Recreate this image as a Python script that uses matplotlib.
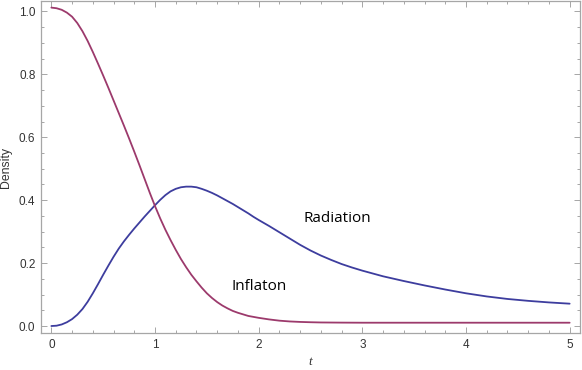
import matplotlib
matplotlib.use("Agg")
import matplotlib.pyplot as plt
from matplotlib.ticker import MultipleLocator

# Data
t_infl = [0.00, 0.05, 0.10, 0.15, 0.20, 0.25, 0.30, 0.35, 0.40, 0.45, 0.50, 0.55,
          0.60, 0.65, 0.70, 0.75, 0.80, 0.85, 0.90, 0.95, 1.00, 1.05, 1.10, 1.15,
          1.20, 1.25, 1.30, 1.35, 1.40, 1.45, 1.50, 1.55, 1.60, 1.65, 1.70, 1.75,
          1.80, 1.85, 1.90, 1.95, 2.00, 2.10, 2.20, 2.30, 2.40, 2.50, 2.60, 2.80,
          3.00, 4.00, 5.00]
inflaton = [1.012, 1.010, 1.005, 0.996, 0.983, 0.963, 0.937, 0.906, 0.871, 0.834,
            0.796, 0.757, 0.717, 0.677, 0.637, 0.596, 0.554, 0.511, 0.467, 0.423,
            0.381, 0.342, 0.306, 0.273, 0.242, 0.213, 0.187, 0.163, 0.142, 0.122,
            0.104, 0.089, 0.076, 0.065, 0.056, 0.048, 0.042, 0.037, 0.032, 0.029,
            0.026, 0.021, 0.017, 0.0145, 0.013, 0.012, 0.0113, 0.0108, 0.0105,
            0.0105, 0.0105]

t_rad = [0.00, 0.05, 0.10, 0.15, 0.20, 0.25, 0.30, 0.35, 0.40, 0.45, 0.50, 0.55,
         0.60, 0.65, 0.70, 0.75, 0.80, 0.85, 0.90, 0.95, 1.00, 1.05, 1.10, 1.15,
         1.20, 1.25, 1.30, 1.35, 1.40, 1.45, 1.50, 1.55, 1.60, 1.65, 1.70, 1.75,
         1.80, 1.85, 1.90, 1.95, 2.00, 2.10, 2.20, 2.30, 2.40, 2.50, 2.60, 2.70,
         2.80, 2.90, 3.00, 3.20, 3.40, 3.60, 3.80, 4.00, 4.20, 4.40, 4.60, 4.80,
         5.00]
radiation = [0.000, 0.001, 0.005, 0.012, 0.022, 0.036, 0.054, 0.077, 0.104, 0.133,
             0.163, 0.192, 0.220, 0.246, 0.269, 0.290, 0.310, 0.329, 0.348, 0.366,
             0.384, 0.401, 0.416, 0.428, 0.436, 0.441, 0.443, 0.443, 0.441, 0.436,
             0.430, 0.423, 0.415, 0.406, 0.397, 0.388, 0.378, 0.368, 0.358, 0.347,
             0.337, 0.318, 0.298, 0.278, 0.258, 0.240, 0.224, 0.210, 0.197, 0.186,
             0.176, 0.158, 0.143, 0.129, 0.116, 0.104, 0.094, 0.086, 0.080, 0.075,
             0.071]

x_ticks = [0, 1, 2, 3, 4, 5]
y_ticks = [0.0, 0.2, 0.4, 0.6, 0.8, 1.0]

c_rad = "#3d3d9e"
c_infl = "#9c3a6c"
frame_c = "#a6a6a6"
text_c = "#333333"

fig = plt.figure(figsize=(5.82, 3.70), dpi=100)
ax = fig.add_axes([41/582, 37/370, (580-41)/582, (369-37)/370])

ax.plot(t_rad, radiation, color=c_rad, lw=1.3, solid_capstyle="round",
        solid_joinstyle="round")
ax.plot(t_infl, inflaton, color=c_infl, lw=1.3, solid_capstyle="round",
        solid_joinstyle="round")

ax.set_xlim(-0.1, 5.1)
ax.set_ylim(-0.0222, 1.033)

ax.set_xticks(x_ticks)
ax.set_xticklabels([str(v) for v in x_ticks])
ax.set_yticks(y_ticks)
ax.set_yticklabels([f"{v:.1f}" for v in y_ticks])
ax.xaxis.set_minor_locator(MultipleLocator(0.2))
ax.yaxis.set_minor_locator(MultipleLocator(0.05))

for s in ax.spines.values():
    s.set_color(frame_c)
    s.set_linewidth(0.9)

ax.tick_params(which="both", direction="in", top=True, right=True, color=frame_c,
               labelcolor=text_c, labelsize=8.5, width=0.7)
ax.tick_params(which="major", length=4, pad=4)
ax.tick_params(which="minor", length=2.3)
for lab in ax.get_xticklabels() + ax.get_yticklabels():
    lab.set_family("Liberation Sans")

ax.set_xlabel("t", fontsize=9.5, style="italic", family="Liberation Serif",
              color=text_c, labelpad=4)
ax.set_ylabel("Density", fontsize=8.8, family="Liberation Sans", color=text_c,
              labelpad=5)

ax.text(2.758, 0.343, "Radiation", fontsize=11, family="Open Sans",
        ha="center", va="center", color="black")
ax.text(2.004, 0.127, "Inflaton", fontsize=11, family="Open Sans",
        ha="center", va="center", color="black")

fig.savefig("out.png", dpi=100)
